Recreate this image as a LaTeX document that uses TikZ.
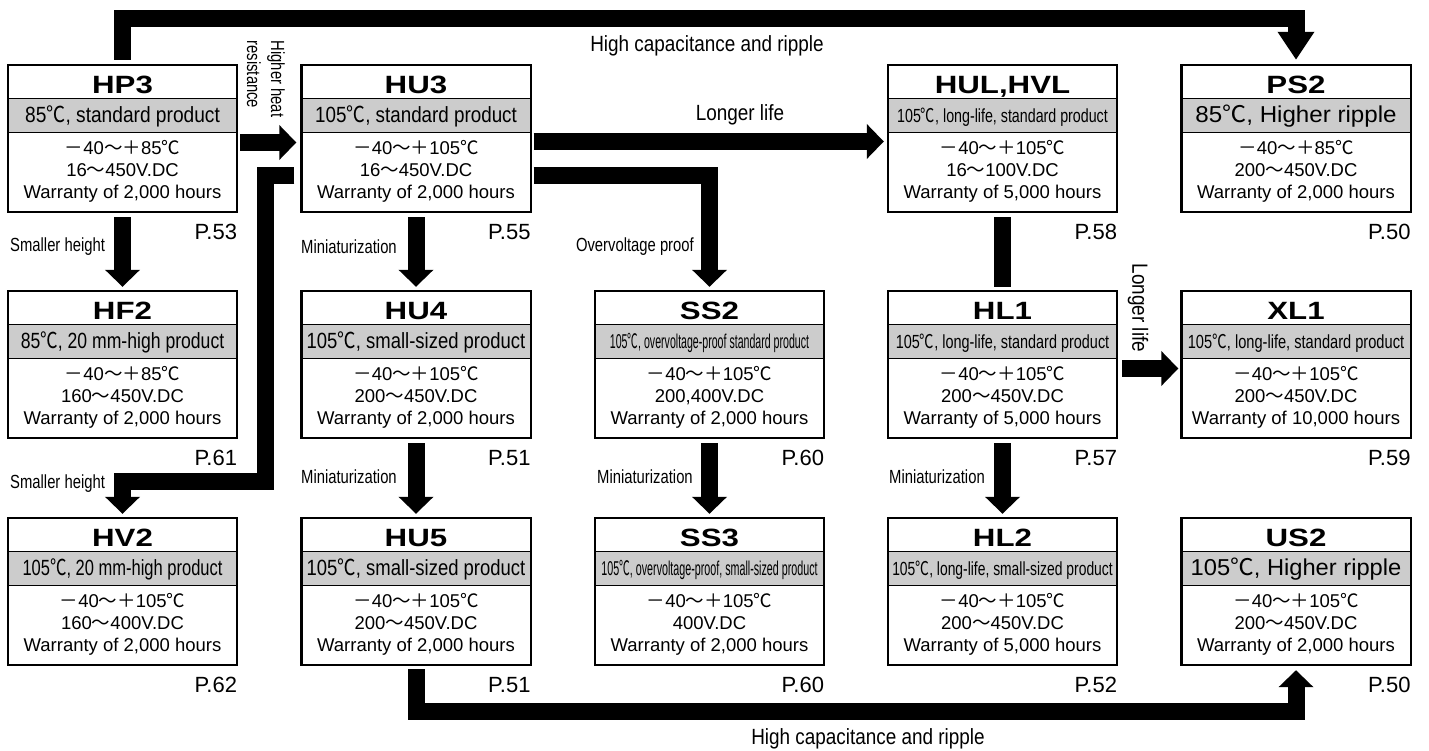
\documentclass[tikz,border=0pt]{standalone}
\usepackage{fontspec}
\usepackage{graphicx}
\usepackage{tikz}
\usetikzlibrary{arrows.meta,calc}
\setmainfont{Liberation Sans}
\newfontfamily\titlefont[FakeStretch=1.25]{Liberation Sans}
\newfontfamily\narrowfont[FakeStretch=0.78]{Liberation Sans}
\newfontfamily\semifont[FakeStretch=0.86]{Liberation Sans}
\newfontfamily\cjk{Noto Sans CJK JP}
\definecolor{bandgray}{RGB}{204,204,204}
\newcommand\degc{{\cjk ℃}}
\newcommand\wv{{\cjk 〜}}
\newcommand\temprange[2]{{\cjk －}#1{\cjk 〜＋}#2{\cjk ℃}}
\newcommand\seriesbox[8]{%
	\node[boxshape] (#1) at (#2) {};
	\fill[bandfill] ($(#1.north west)+(0,34)$) rectangle ($(#1.north east)+(0,68)$);
	\draw[thinrule] ($(#1.north west)+(0,34)$) -- ($(#1.north east)+(0,34)$);
	\draw[thinrule] ($(#1.north west)+(0,68)$) -- ($(#1.north east)+(0,68)$);
	\draw[boxline] (#1.north west) rectangle (#1.south east);
	\node[titletext] (#1-title) at ($(#1.north)+(0,29)$) {#3};
	\node[bandtext] (#1-band) at ($(#1.north)+(0,58)$) {\scalebox{#4}[1]{\fontsize{#5}{#5}\selectfont #6}};
	\node[bodytext] (#1-body) at ($(#1.north)+(0,107)$) {#7};
	\node[pagetext] (#1-page) at ($(#1.south east)+(0,27)$) {#8};
}

\begin{document}
\begin{tikzpicture}[x=1pt,y=-1pt,
		boxshape/.style={rectangle,minimum width=229pt,minimum height=147pt,inner sep=0pt},
		boxline/.style={line width=2.4pt},
		thinrule/.style={line width=1.1pt},
		bandfill/.style={fill=bandgray},
		titletext/.style={anchor=base,inner sep=0pt,font=\titlefont\bfseries\fontsize{25}{25}\selectfont},
		bandtext/.style={anchor=base,inner sep=0pt},
		bodytext/.style={align=center,inner sep=0pt,font=\fontsize{18.5}{22}\selectfont},
		pagetext/.style={anchor=base east,inner sep=0pt,font=\fontsize{22}{22}\selectfont},
		smalllabel/.style={inner sep=0pt,font=\narrowfont\fontsize{19}{24}\selectfont},
		biglabel/.style={inner sep=0pt,font=\semifont\fontsize{22}{26}\selectfont},
		fatbar/.style={line width=17pt,line join=miter},
		fatarrow/.style={fatbar,-{Triangle[width=34pt,length=17pt]}}]
	\useasboundingbox (0,0) rectangle (1429,751);
	\seriesbox{hp3}{122.5,138.5}{HP3}{0.87}{22}{85\degc, standard product}{\temprange{40}{85}\\16\wv450V.DC\\Warranty of 2,000 hours}{P.53}
	\seriesbox{hu3}{416,138.5}{HU3}{0.855}{22}{105\degc, standard product}{\temprange{40}{105}\\16\wv450V.DC\\Warranty of 2,000 hours}{P.55}
	\seriesbox{hul}{1002.5,138.5}{HUL,HVL}{0.75}{19}{105\degc, long-life, standard product}{\temprange{40}{105}\\16\wv100V.DC\\Warranty of 5,000 hours}{P.58}
	\seriesbox{ps2}{1296,138.5}{PS2}{1.05}{23}{85\degc, Higher ripple}{\temprange{40}{85}\\200\wv450V.DC\\Warranty of 2,000 hours}{P.50}
	\seriesbox{hf2}{122.5,364.5}{HF2}{0.80}{22}{85\degc, 20 mm-high product}{\temprange{40}{85}\\160\wv450V.DC\\Warranty of 2,000 hours}{P.61}
	\seriesbox{hu4}{416,364.5}{HU4}{0.84}{22}{105\degc, small-sized product}{\temprange{40}{105}\\200\wv450V.DC\\Warranty of 2,000 hours}{P.51}
	\seriesbox{ss2}{709.5,364.5}{SS2}{0.53}{20}{105\degc, overvoltage-proof standard product}{\temprange{40}{105}\\200,400V.DC\\Warranty of 2,000 hours}{P.60}
	\seriesbox{hl1}{1002.5,364.5}{HL1}{0.76}{19}{105\degc, long-life, standard product}{\temprange{40}{105}\\200\wv450V.DC\\Warranty of 5,000 hours}{P.57}
	\seriesbox{xl1}{1296,364.5}{XL1}{0.77}{19}{105\degc, long-life, standard product}{\temprange{40}{105}\\200\wv450V.DC\\Warranty of 10,000 hours}{P.59}
	\seriesbox{hv2}{122.5,591.5}{HV2}{0.75}{22}{105\degc, 20 mm-high product}{\temprange{40}{105}\\160\wv400V.DC\\Warranty of 2,000 hours}{P.62}
	\seriesbox{hu5}{416,591.5}{HU5}{0.84}{22}{105\degc, small-sized product}{\temprange{40}{105}\\200\wv450V.DC\\Warranty of 2,000 hours}{P.51}
	\seriesbox{ss3}{709.5,591.5}{SS3}{0.536}{20}{105\degc, overvoltage-proof, small-sized product}{\temprange{40}{105}\\400V.DC\\Warranty of 2,000 hours}{P.60}
	\seriesbox{hl2}{1002.5,591.5}{HL2}{0.73}{19}{105\degc, long-life, small-sized product}{\temprange{40}{105}\\200\wv450V.DC\\Warranty of 5,000 hours}{P.52}
	\seriesbox{us2}{1296,591.5}{US2}{1.03}{23}{105\degc, Higher ripple}{\temprange{40}{105}\\200\wv450V.DC\\Warranty of 2,000 hours}{P.50}

	\coordinate (bendhv) at (265,481);
	\draw[fatarrow,-{Triangle[width=35pt,length=28pt]}] ([yshift=5pt]hp3.north) -- ++(0,-41) -| ([yshift=5pt]ps2.north);
	\draw[fatarrow] ($(hp3.east)+(3,4)$) -- ($(hu3.west)+(-5,4)$);
	\draw[fatarrow] ($(hu3.east)+(3,3)$) -- ($(hul.west)+(-4,3)$);
	\draw[fatarrow] ($(hu3.east)+(3,37)$) -| ([yshift=4pt]ss2.north);
	\draw[fatarrow] ($(hu3.west)+(-7,37)$) -| (bendhv) -| ([yshift=4pt]hv2.north);
	\draw[fatarrow] ([yshift=-5pt]hp3.south) -- ([yshift=4pt]hf2.north);
	\draw[fatarrow] ([yshift=-5pt]hu3.south) -- ([yshift=4pt]hu4.north);
	\draw[fatarrow] ([yshift=-5pt]hu4.south) -- ([yshift=4pt]hu5.north);
	\draw[fatarrow] ([yshift=-5pt]ss2.south) -- ([yshift=4pt]ss3.north);
	\draw[fatbar] ([yshift=-5pt]hul.south) -- ([yshift=4pt]hl1.north);
	\draw[fatarrow] ([yshift=-5pt]hl1.south) -- ([yshift=4pt]hl2.north);
	\draw[fatarrow] ($(hl1.east)+(5,4)$) -- ($(xl1.west)+(-3,4)$);
	\draw[fatarrow] ([yshift=-4pt]hu5.south) -- ++(0,42) -| ([yshift=-5pt]us2.south);

	\node[biglabel] (toplbl) at (707,46) {High capacitance and ripple};
	\node[biglabel] (bottomlbl) at (868,739) {High capacitance and ripple};
	\node[biglabel] (lifelbl) at (740,115) {Longer life};
	\node[biglabel,rotate=-90] (xllbl) at (1138,308) {Longer life};
	\node[smalllabel,rotate=-90,align=left] (heatlbl) at (266,79) {Higher heat\\resistance};
	\node[smalllabel,anchor=west] (hflbl) at (10,247) {Smaller height};
	\node[smalllabel,anchor=west] (hvlbl) at (10,484) {Smaller height};
	\node[smalllabel,anchor=west] (hu4lbl) at (301,247) {Miniaturization};
	\node[smalllabel,anchor=west] (hu5lbl) at (301,477) {Miniaturization};
	\node[smalllabel,anchor=east] (sslbl) at (694,247) {Overvoltage proof};
	\node[smalllabel,anchor=west] (ss3lbl) at (597,477) {Miniaturization};
	\node[smalllabel,anchor=west] (hl2lbl) at (889,477) {Miniaturization};
\end{tikzpicture}
\end{document}
